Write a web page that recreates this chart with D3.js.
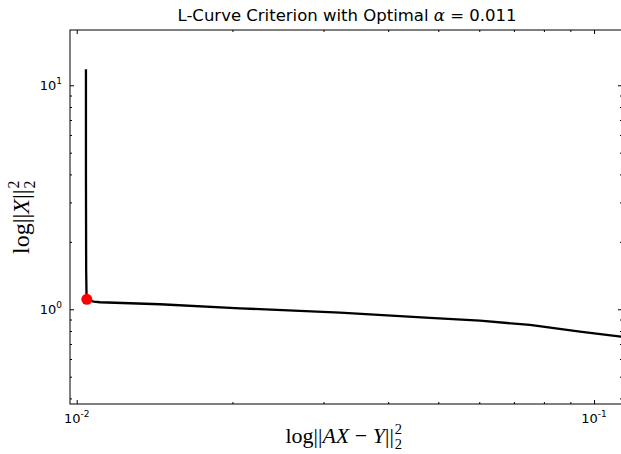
<!DOCTYPE html>
<html>
<head>
<meta charset="utf-8">
<script src="https://cdn.jsdelivr.net/npm/d3@7"></script>
<style>
  body { margin: 0; background: #fff; }
  svg { display: block; }
</style>
</head>
<body>
<svg id="chart" width="621" height="454"></svg>
<script>
// données (norme du résidu, norme de la solution)
var residualNorm = [0.01042, 0.01042, 0.01043, 0.01045, 0.0108, 0.01109, 0.01449, 0.02068, 0.03228, 0.04817, 0.06018, 0.07517, 0.09393, 0.1127, 0.118];
var solutionNorm = [11.8, 4.0, 1.5, 1.1, 1.083, 1.075, 1.053, 1.0103, 0.9656, 0.9145, 0.8894, 0.851, 0.794, 0.7547, 0.745];
var optimalPoint = [0.01046, 1.108];
var optimalAlpha = "0.011";

var xMajorTicks = [0.01, 0.1];
var xMajorLabels = ["-2", "-1"];
var xMinorTicks = [0.02, 0.03, 0.04, 0.05, 0.06, 0.07, 0.08, 0.09];
var yMajorTicks = [1, 10];
var yMajorLabels = ["0", "1"];
var yMinorTicks = [0.4, 0.5, 0.6, 0.7, 0.8, 0.9, 2, 3, 4, 5, 6, 7, 8, 9];

// bords de la zone de tracé ("top" est réservé dans window)
var pL = 70, pR = 622, pT = 30, pB = 404;
var svg = d3.select("#chart");

var x = d3.scaleLog().domain([0.009706, 0.11325]).range([pL, pR]);
var y = d3.scaleLog().domain([0.3777, 17.65]).range([pB, pT]);

svg.append("clipPath").attr("id", "clip")
  .append("rect").attr("x", pL).attr("y", pT).attr("width", pR - pL).attr("height", pB - pT);

var pts = residualNorm.map(function(d, i){ return [d, solutionNorm[i]]; });
var line = d3.line().x(function(d){ return x(d[0]); }).y(function(d){ return y(d[1]); });

svg.append("path")
  .datum(pts)
  .attr("clip-path", "url(#clip)")
  .attr("d", line)
  .attr("fill", "none")
  .attr("stroke", "#000")
  .attr("stroke-width", 2.3)
  .attr("stroke-linejoin", "round");

svg.append("circle")
  .attr("cx", x(optimalPoint[0]))
  .attr("cy", y(optimalPoint[1]))
  .attr("r", 5.5)
  .attr("fill", "#ff0000");

// axes (ticks vers l'intérieur)
function drawTicks(axisFn, scale, vals, size, pos){
  var g = svg.append("g").attr("transform", pos)
    .call(axisFn(scale).tickValues(vals).tickSize(size).tickFormat(""));
  g.select(".domain").remove();
  g.selectAll("line").attr("stroke", "#000").attr("stroke-width", 1);
  return g;
}
drawTicks(d3.axisBottom, x, xMajorTicks, -4, "translate(0," + pB + ")");
drawTicks(d3.axisBottom, x, xMinorTicks, -2, "translate(0," + pB + ")");
drawTicks(d3.axisTop, x, xMajorTicks, -4, "translate(0," + pT + ")");
drawTicks(d3.axisTop, x, xMinorTicks, -2, "translate(0," + pT + ")");
drawTicks(d3.axisLeft, y, yMajorTicks, -4, "translate(" + pL + ",0)");
drawTicks(d3.axisLeft, y, yMinorTicks, -2, "translate(" + pL + ",0)");
drawTicks(d3.axisRight, y, yMajorTicks, -4, "translate(" + pR + ",0)");
drawTicks(d3.axisRight, y, yMinorTicks, -2, "translate(" + pR + ",0)");

svg.append("rect")
  .attr("x", pL).attr("y", pT).attr("width", pR - pL).attr("height", pB - pT)
  .attr("fill", "none").attr("stroke", "#000").attr("stroke-width", 1);

// étiquettes des ticks (10^n)
var tickFont = "'DejaVu Sans', sans-serif";
xMajorTicks.forEach(function(v, i){
  var t = svg.append("text")
    .attr("x", x(v)).attr("y", pB + 19)
    .attr("text-anchor", "middle")
    .style("font-family", tickFont).style("font-size", "13px");
  t.append("tspan").text("10");
  t.append("tspan").attr("dy", -6).style("font-size", "9px").text(xMajorLabels[i]);
});
yMajorTicks.forEach(function(v, i){
  var t = svg.append("text")
    .attr("x", pL - 8).attr("y", y(v) + 5)
    .attr("text-anchor", "end")
    .style("font-family", tickFont).style("font-size", "13px");
  t.append("tspan").text("10");
  t.append("tspan").attr("dy", -6).style("font-size", "9px").text(yMajorLabels[i]);
});

// titre
var title = svg.append("text")
  .attr("x", (pL + pR) / 2 + 1).attr("y", 21)
  .attr("text-anchor", "middle")
  .style("font-family", tickFont).style("font-size", "16.5px");
title.append("tspan").text("L-Curve Criterion with Optimal ");
title.append("tspan").style("font-family", "'DejaVu Serif', serif").style("font-style", "italic").text("α");
title.append("tspan").text(" = " + optimalAlpha);

// libellé mathématique : log||...||_2^2
function mathLabel(g, parts, size){
  var t = g.append("text").style("font-family", "'Liberation Serif', 'DejaVu Serif', serif").style("font-size", size + "px");
  parts.forEach(function(p){
    t.append("tspan").style("font-style", p[1] ? "italic" : "normal").text(p[0]);
  });
  var w = t.node().getComputedTextLength();
  var s = size * 0.66;
  g.append("text").attr("x", w + 1).attr("y", -size * 0.4)
    .style("font-family", "'Liberation Serif', serif").style("font-size", s + "px").text("2");
  g.append("text").attr("x", w + 1).attr("y", size * 0.26)
    .style("font-family", "'Liberation Serif', serif").style("font-size", s + "px").text("2");
  var total = w + s * 0.6;
  g.selectAll("text").attr("transform", "translate(" + (-total / 2) + ",0)");
}

var xl = svg.append("g").attr("transform", "translate(" + ((pL + pR) / 2 - 2) + ",443)");
mathLabel(xl, [["log||", false], ["AX", true], [" \u2212 ", false], ["Y", true], ["||", false]], 22);

var yl = svg.append("g").attr("transform", "translate(29," + ((pT + pB) / 2) + ") rotate(-90)");
mathLabel(yl, [["log||", false], ["X", true], ["||", false]], 24);
</script>
</body>
</html>
